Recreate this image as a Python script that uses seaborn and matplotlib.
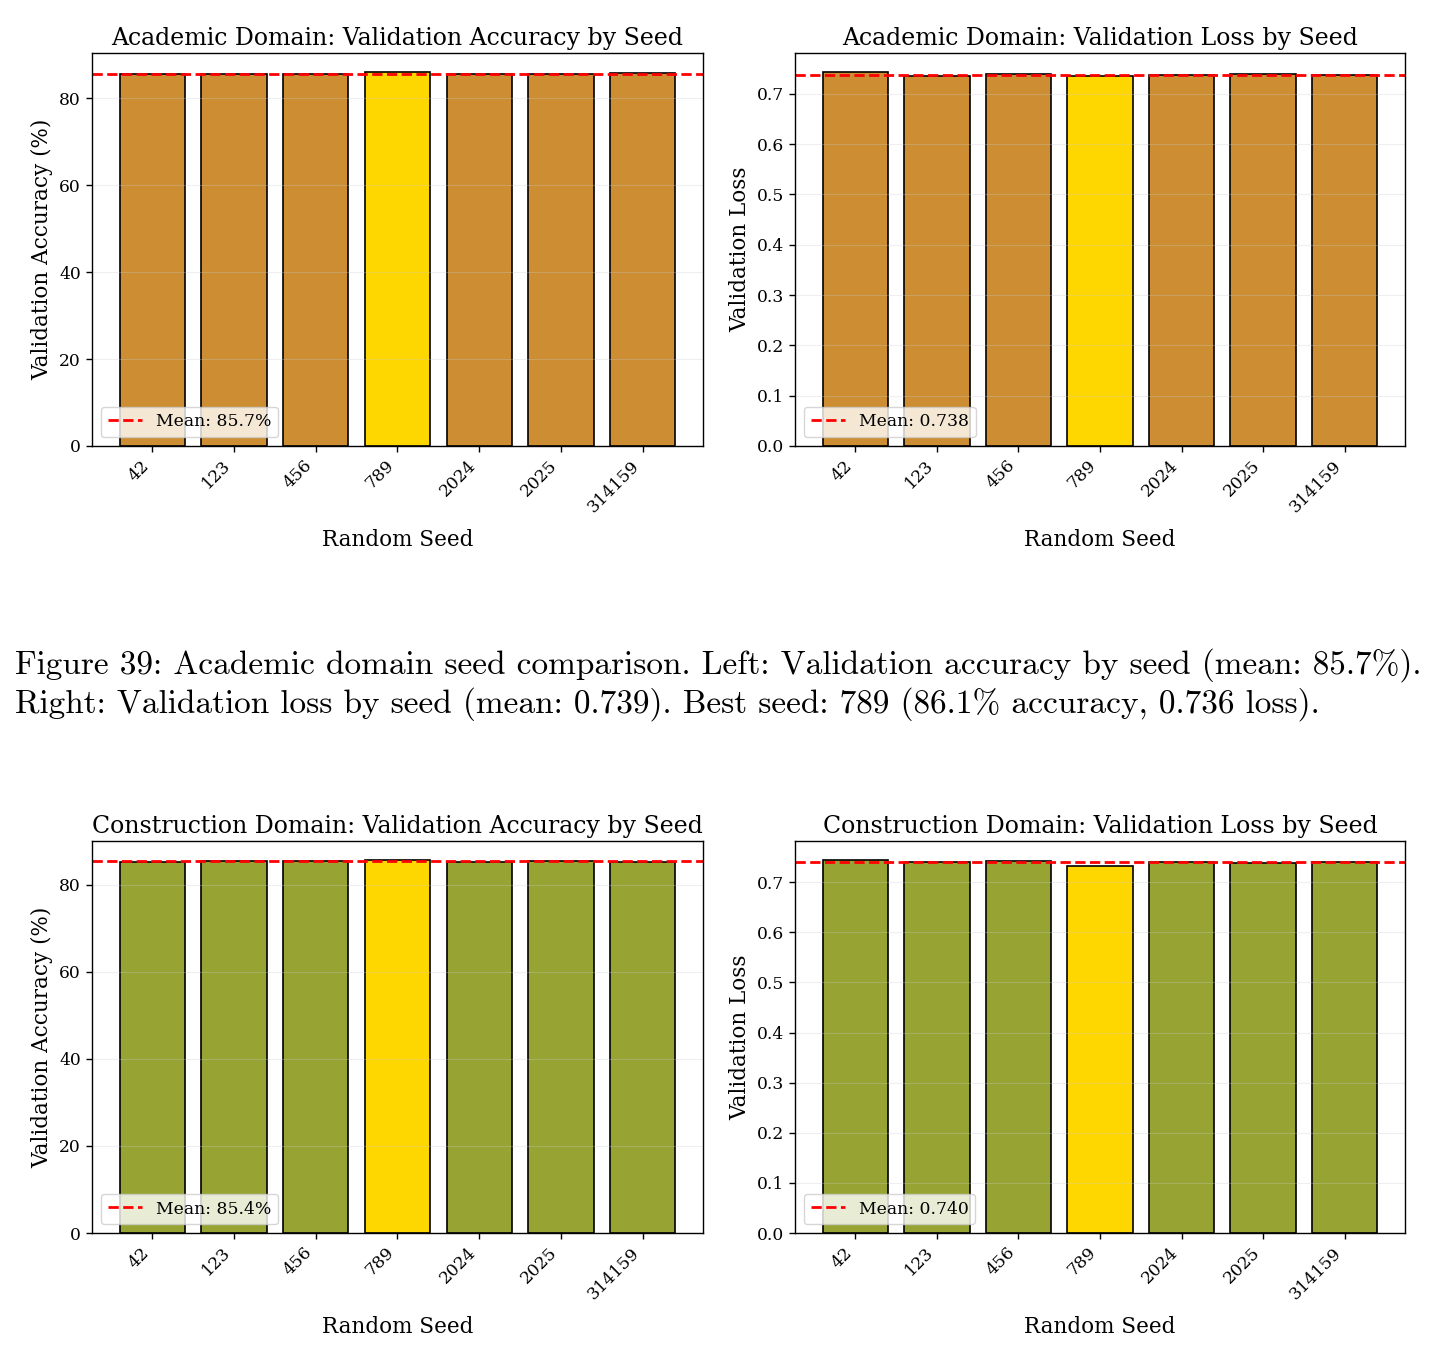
import matplotlib
matplotlib.use("Agg")
import matplotlib.pyplot as plt
import seaborn as sns
import numpy as np
import pandas as pd

# values
seeds = ["42", "123", "456", "789", "2024", "2025", "314159"]
best_seed = "789"

academic_acc = [85.6, 85.6, 85.6, 86.1, 85.6, 85.6, 85.7]
academic_loss = [0.744, 0.7355, 0.740, 0.736, 0.7365, 0.740, 0.7365]
construction_acc = [85.2, 85.6, 85.4, 85.8, 85.3, 85.6, 85.2]
construction_loss = [0.745, 0.741, 0.743, 0.733, 0.741, 0.739, 0.741]

academic_color = "#CD8E33"
construction_color = "#97A433"
best_color = "#FFD700"

caption = ("Figure 39: Academic domain seed comparison. Left: Validation accuracy by seed (mean: 85.7%).\n"
           "Right: Validation loss by seed (mean: 0.739). Best seed: 789 (86.1% accuracy, 0.736 loss).")

sns.set_style("white")
plt.rcParams["font.family"] = ["DejaVu Serif"]
plt.rcParams["axes.axisbelow"] = "line"
# plain black text like the reference, not seaborn's dark grey
for k in ["text.color", "axes.labelcolor", "xtick.color", "ytick.color"]:
    plt.rcParams[k] = "black"

fig = plt.figure(figsize=(14.4, 13.62), dpi=100)

W, H = 1440, 1362
def place(x0, x1, y0, y1):
    return fig.add_axes([x0 / W, 1 - y1 / H, (x1 - x0) / W, (y1 - y0) / H])


def draw(ax, values, base_color, title, ylabel, fmt):
    df = pd.DataFrame({"seed": seeds, "value": values})
    pal = {s: (best_color if s == best_seed else base_color) for s in seeds}
    sns.barplot(data=df, x="seed", y="value", hue="seed", palette=pal, legend=False,
                edgecolor="black", linewidth=1.2, width=0.8, saturation=1, ax=ax)
    mean = np.mean(values)
    ax.axhline(mean, color="red", linestyle="--", linewidth=2, label="Mean: " + fmt.format(mean))
    ax.set_xlim(-0.74, len(seeds) - 0.26)
    ax.set_ylim(0, max(values) * 1.05)
    ax.set_title(title, fontsize=17)
    ax.set_xlabel("Random Seed", fontsize=15.5, labelpad=10)
    ax.set_ylabel(ylabel, fontsize=15.5)
    ax.tick_params(axis="both", labelsize=12.3, length=4.5, width=1, left=True, bottom=True)
    plt.setp(ax.get_xticklabels(), rotation=45, ha="right")
    ax.grid(axis="y", alpha=0.3)
    for sp in ax.spines.values():
        sp.set_color("black")
        sp.set_linewidth(1)
    ax.legend(loc="lower left", fontsize=12.4)


ax1 = place(92, 703, 53, 446)
draw(ax1, academic_acc, academic_color, "Academic Domain: Validation Accuracy by Seed",
     "Validation Accuracy (%)", "{:.1f}%")
ax2 = place(795, 1405, 53, 446)
draw(ax2, academic_loss, academic_color, "Academic Domain: Validation Loss by Seed",
     "Validation Loss", "{:.3f}")
ax3 = place(92, 703, 841, 1233)
draw(ax3, construction_acc, construction_color, "Construction Domain: Validation Accuracy by Seed",
     "Validation Accuracy (%)", "{:.1f}%")
ax4 = place(795, 1405, 841, 1233)
draw(ax4, construction_loss, construction_color, "Construction Domain: Validation Loss by Seed",
     "Validation Loss", "{:.3f}")

fig.text(15 / W, 1 - 685 / H, caption, family=["cmr10", "DejaVu Serif"], fontsize=24,
         ha="left", va="center", linespacing=1.2)

fig.savefig("out.png", dpi=100)
